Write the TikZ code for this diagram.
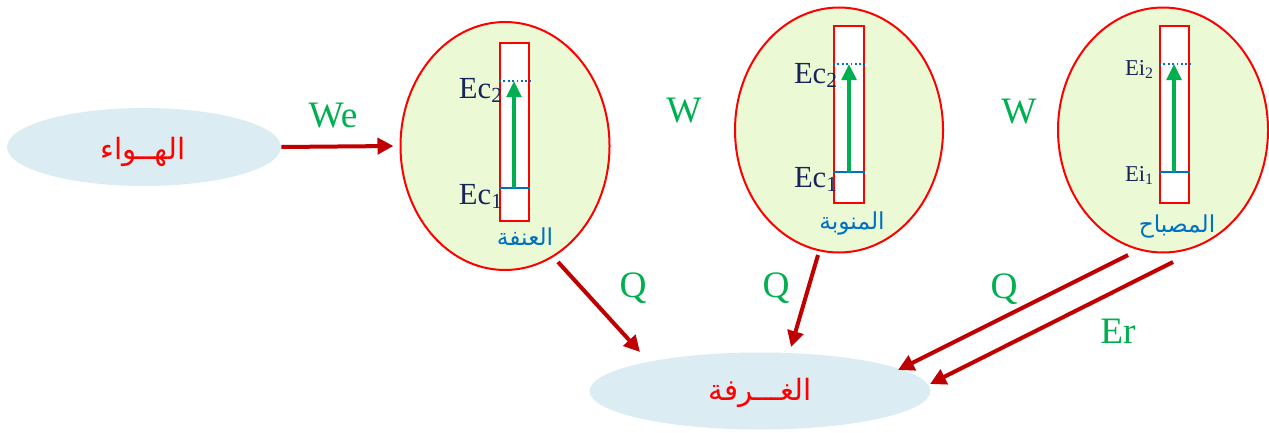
\documentclass[tikz,border=0pt]{standalone}
\usepackage{fontspec}
\setmainfont{Liberation Serif}
\newfontfamily\arabicfont[Script=Arabic]{DejaVu Sans}
\TeXXeTstate=1
\usetikzlibrary{shapes.geometric,arrows.meta}
\definecolor{bubble}{HTML}{DBECF2}
\definecolor{lime}{HTML}{EBF9D5}
\definecolor{dred}{HTML}{C00000}
\definecolor{grn}{HTML}{00B050}
\definecolor{navy}{HTML}{17255A}
\definecolor{lblue}{HTML}{0070C0}
\tikzset{
  cloud/.style={ellipse, fill=bubble, inner sep=0pt},
  sys/.style={ellipse, draw=red, line width=1.5pt, fill=lime, inner sep=0pt},
  bar/.style={draw=red, line width=1.5pt, fill=white, rectangle, inner sep=0pt},
  flow/.style={draw=dred, line width=3pt, -{Triangle[length=12pt,width=12pt]}},
  lift/.style={draw=grn, line width=2.6pt, -{Triangle[length=12pt,width=11pt]}},
  lvl/.style={draw=lblue, line width=1.3pt},
  lvldot/.style={draw=lblue, line width=1.3pt, dotted},
  glab/.style={text=grn, font=\fontsize{28}{30}\selectfont, inner sep=0pt, anchor=base},
  elab/.style={text=navy, font=\fontsize{23}{25}\selectfont, inner sep=0pt, anchor=base east},
  ilab/.style={text=navy, font=\fontsize{17}{19}\selectfont, inner sep=0pt, anchor=base east},
  arname/.style={text=lblue, font=\arabicfont\fontsize{17.5}{19}\selectfont, inner sep=0pt},
  redname/.style={text=red, font=\arabicfont\fontsize{22}{24}\selectfont, inner sep=0pt}
}
\begin{document}
\begin{tikzpicture}[x=0.75pt,y=-0.75pt]
\useasboundingbox (0,0) rectangle (1269,432);
% clouds
\node[cloud, minimum width=205.5pt, minimum height=58.5pt] (air) at (144,147) {};
\node[redname] (airt) at (143,152) {\beginR الهــواء\endR};
\node[cloud, minimum width=255.75pt, minimum height=57.75pt] (room) at (760,391) {};
\node[redname] (roomt) at (760,393) {\beginR الغـــرفة\endR};
% systems
\node[sys, minimum width=156.75pt, minimum height=186pt] (s1) at (505,146) {};
\node[sys, minimum width=156pt, minimum height=183.75pt] (s2) at (839,130) {};
\node[sys, minimum width=157.5pt, minimum height=183.75pt] (s3) at (1163,130) {};
% bars
\node[bar, minimum width=21.75pt, minimum height=133.5pt] (b1) at (514.5,132) {};
\node[bar, minimum width=22.5pt, minimum height=132.75pt] (b2) at (849,114.5) {};
\node[bar, minimum width=21.75pt, minimum height=132.75pt] (b3) at (1174.5,114.5) {};
% levels
\coordinate (b1h) at (514,81); \coordinate (b1l) at (514,188);
\coordinate (b2h) at (849,64); \coordinate (b2l) at (849,172);
\coordinate (b3h) at (1174,64); \coordinate (b3l) at (1174,172);
\draw[lvldot] (b1.west |- b1h) -- (b1.east |- b1h);
\draw[lvl] (b1.west |- b1l) -- (b1.east |- b1l);
\draw[lvldot] (b2.west |- b2h) -- (b2.east |- b2h);
\draw[lvl] (b2.west |- b2l) -- (b2.east |- b2l);
\draw[lvldot] (b3.west |- b3h) -- (b3.east |- b3h);
\draw[lvl] (b3.west |- b3l) -- (b3.east |- b3l);
\draw[lift] (b1l) -- (b1h);
\draw[lift] (b2l) -- (b2h);
\draw[lift] (b3l) -- (b3h);
% level labels
\node[elab] (e12) at (503,98) {Ec\textsubscript{2}};
\node[elab] (e11) at (503,204) {Ec\textsubscript{1}};
\node[elab] (e22) at (838,83) {Ec\textsubscript{2}};
\node[elab] (e21) at (838,187) {Ec\textsubscript{1}};
\node[ilab] (e32) at (1154,75) {Ei\textsubscript{2}};
\node[ilab] (e31) at (1154,181) {Ei\textsubscript{1}};
% names
\node[arname] (n1) at (525,237) {\beginR العنفة\endR};
\node[arname] (n2) at (852,223) {\beginR المنوبة\endR};
\node[arname] (n3) at (1177,226) {\beginR المصباح\endR};
% flows
\coordinate (a1s) at (558,262); \coordinate (a1e) at (640,352);
\coordinate (a2s) at (818,255); \coordinate (a2e) at (791,347);
\coordinate (a3s) at (1128,255); \coordinate (a3e) at (898,370);
\coordinate (a4s) at (1173,262); \coordinate (a4e) at (930,384);
\draw[flow] (air.east) -- ([xshift=-4.5pt]s1.west);
\draw[flow] (a1s) -- (a1e);
\draw[flow] (a2s) -- (a2e);
\draw[flow] (a3s) -- (a3e);
\draw[flow] (a4s) -- (a4e);
% flow labels
\node[glab] (we) at (333,127) {We};
\node[glab] (w1) at (684,122) {W};
\node[glab] (w2) at (1019,123) {W};
\node[glab] (q1) at (633,297) {Q};
\node[glab] (q2) at (776,297) {Q};
\node[glab] (q3) at (1004,298) {Q};
\node[glab] (er) at (1118,343) {Er};
\end{tikzpicture}
\end{document}
